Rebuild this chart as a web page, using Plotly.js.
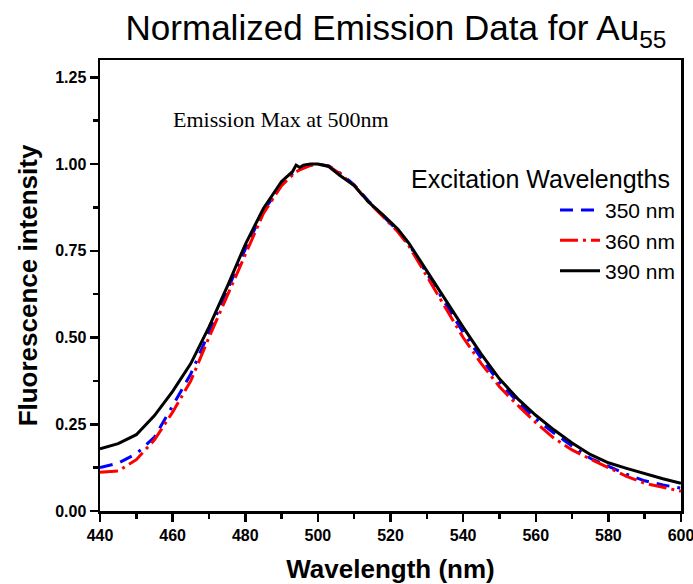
<!DOCTYPE html>
<html>
<head>
<meta charset="utf-8">
<script src="https://cdn.plot.ly/plotly-3.0.1.min.js"></script>
<style>html,body{margin:0;padding:0;background:#fff;}#chart{width:693px;height:584px;}</style>
</head>
<body>
<div id="chart"></div>
<script>
// Wavelength grid (nm)
const wl = [440,445,450,455,460,465,470,475,480,485,490,493,494,495,496,498,500,503,506,510,514,518,522,525,530,535,540,545,550,555,560,565,570,575,580,585,590,595,600];

// Excitation 350 nm
const ex350 = [0.125,0.138,0.165,0.213,0.303,0.395,0.515,0.637,0.755,0.865,0.94,0.972,0.98,0.985,0.99,0.997,1.0,0.995,0.975,0.94,0.893,0.85,0.808,0.77,0.685,0.6,0.515,0.44,0.37,0.315,0.265,0.225,0.187,0.152,0.128,0.106,0.087,0.075,0.066];

// Excitation 360 nm
const ex360 = [0.112,0.115,0.148,0.205,0.285,0.375,0.5,0.62,0.735,0.858,0.938,0.968,0.978,0.983,0.988,0.996,1.0,0.994,0.973,0.938,0.89,0.848,0.805,0.765,0.678,0.59,0.5,0.425,0.358,0.305,0.255,0.21,0.176,0.15,0.125,0.1,0.08,0.068,0.057];

// Excitation 390 nm
const ex390 = [0.179,0.194,0.22,0.275,0.345,0.425,0.53,0.646,0.768,0.872,0.95,0.978,0.997,0.99,0.997,1.0,1.0,0.993,0.968,0.938,0.89,0.853,0.813,0.773,0.692,0.61,0.53,0.452,0.381,0.324,0.276,0.234,0.196,0.163,0.139,0.123,0.107,0.093,0.08];

const names = ['350 nm','360 nm','390 nm'];
const xTicks = [440,460,480,500,520,540,560,580,600];
const yTicks = [0,0.25,0.5,0.75,1.0,1.25];
const yTickText = ['0.00','0.25','0.50','0.75','1.00','1.25'];

const traces = [
  {x: wl, y: ex350, name: names[0], mode:'lines',
   line:{color:'#0000ff', width:3, dash:'13px,8px,13px,8px,3px,8px'}},
  {x: wl, y: ex360, name: names[1], mode:'lines',
   line:{color:'#ff0000', width:3, dash:'18px,5px,3px,5px'}},
  {x: wl, y: ex390, name: names[2], mode:'lines',
   line:{color:'#000000', width:3}}
];

const FONT = 'Liberation Sans, Arial, sans-serif';
const axisCommon = {
  showgrid:false, zeroline:false, showline:true, linecolor:'#000', linewidth:2.5,
  mirror:true, ticks:'outside', ticklen:8, tickwidth:2.5, tickcolor:'#000',
  ticklabeloverflow:'allow',
  tickfont:{family:FONT, size:16, color:'#000'}
};

const layout = {
  width:693, height:584,
  margin:{l:100, r:12, t:60, b:73},
  paper_bgcolor:'#fff', plot_bgcolor:'#fff',
  showlegend:true,
  title:{text:'Normalized Emission Data for Au<sub>55</sub>',
    font:{family:FONT, size:35, color:'#000'},
    x:396/693, xanchor:'center', xref:'container', y:1-28/584, yanchor:'middle', yref:'container'},
  xaxis: Object.assign({}, axisCommon, {
    range:[440,600], tickvals:xTicks, ticktext:xTicks.map(v => '<b>' + v + '</b>'),
    minor:{dtick:10, ticklen:5, tickwidth:2.5, tickcolor:'#000', ticks:'outside'},
    title:{text:'<b>Wavelength (nm)</b>', standoff:19,
      font:{family:FONT, size:26, color:'#000'}}
  }),
  yaxis: Object.assign({}, axisCommon, {
    range:[0,1.3], tickvals:yTicks, ticktext:yTickText.map(t => '<b>' + t + '</b>'),
    minor:{tickvals:[0.125,0.375,0.625,0.875,1.125], ticklen:5, tickwidth:2.5, tickcolor:'#000', ticks:'outside'},
    title:{text:'<b>Fluorescence intensity</b>', standoff:10,
      font:{family:FONT, size:26, color:'#000'}}
  }),
  legend:{x:1, xanchor:'right', y:0.712, yanchor:'top', bgcolor:'rgba(0,0,0,0)',
    borderwidth:0, font:{family:FONT, size:21, color:'#000'},
    tracegroupgap:0, itemwidth:40},
  annotations:[
    {text:'Emission Max at 500nm', xref:'paper', yref:'paper',
     x:(171-100)/581, xanchor:'left', y:(511-119)/451, yanchor:'middle', showarrow:false,
     font:{family:'Liberation Serif, Times New Roman, serif', size:22, color:'#000'}},
    {text:'Excitation Wavelengths', xref:'paper', yref:'paper',
     x:(672-100)/581, xanchor:'right', y:(511-179)/451, yanchor:'middle', showarrow:false,
     font:{family:FONT, size:25, color:'#000'}}
  ]
};

Plotly.newPlot('chart', traces, layout, {displayModeBar:false, staticPlot:true});
</script>
</body>
</html>
